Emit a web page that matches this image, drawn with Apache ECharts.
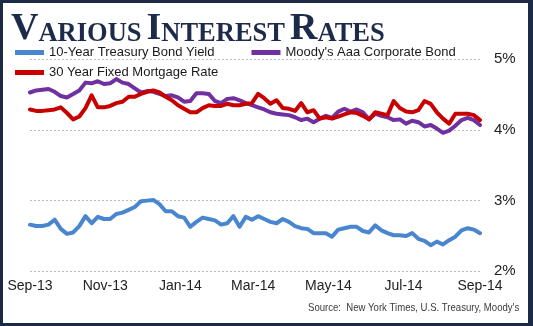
<!DOCTYPE html>
<html>
<head>
<meta charset="utf-8">
<script src="https://cdn.jsdelivr.net/npm/echarts@6/dist/echarts.min.js"></script>
<style>
  html, body { margin: 0; padding: 0; background: #ffffff; }
  #chart { width: 533px; height: 326px; }
</style>
</head>
<body>
<div id="chart"></div>
<script>
// Samples every 5 days starting 1 Sep 2013 (values in %)
const START = Date.UTC(2013, 8, 1);
const STEP_DAYS = 5;
const DAY = 86400000;

const treasury = [
  2.66,2.64,2.64,2.66,2.73,2.60,2.53,2.55,2.64,2.78,
  2.68,2.77,2.74,2.74,2.81,2.83,2.87,2.91,2.99,3.00,
  3.01,2.95,2.85,2.85,2.78,2.76,2.63,2.70,2.76,2.74,
  2.72,2.66,2.68,2.78,2.63,2.77,2.73,2.78,2.74,2.70,
  2.68,2.74,2.70,2.64,2.61,2.60,2.54,2.54,2.54,2.49,
  2.59,2.61,2.63,2.63,2.57,2.55,2.65,2.58,2.54,2.51,
  2.51,2.50,2.54,2.46,2.43,2.37,2.42,2.38,2.44,2.49,
  2.58,2.61,2.59,2.54
];
const moodys = [
  4.53,4.56,4.57,4.58,4.54,4.48,4.46,4.51,4.56,4.67,
  4.66,4.69,4.65,4.66,4.72,4.67,4.65,4.59,4.53,4.55,
  4.54,4.51,4.48,4.49,4.46,4.40,4.41,4.52,4.52,4.51,
  4.41,4.38,4.44,4.45,4.42,4.38,4.35,4.32,4.29,4.25,
  4.23,4.22,4.21,4.18,4.14,4.16,4.11,4.16,4.20,4.17,
  4.26,4.30,4.26,4.29,4.25,4.15,4.23,4.20,4.18,4.14,
  4.15,4.09,4.13,4.11,4.05,4.07,4.02,3.96,3.99,4.06,
  4.14,4.17,4.14,4.07
];
const mortgage = [
  4.29,4.27,4.27,4.28,4.29,4.32,4.24,4.15,4.19,4.31,
  4.49,4.32,4.32,4.34,4.38,4.40,4.47,4.47,4.51,4.54,
  4.56,4.53,4.47,4.42,4.35,4.30,4.25,4.25,4.31,4.35,
  4.34,4.34,4.37,4.35,4.35,4.37,4.38,4.51,4.45,4.37,
  4.42,4.31,4.30,4.27,4.38,4.25,4.28,4.16,4.18,4.16,
  4.19,4.22,4.25,4.24,4.20,4.15,4.25,4.23,4.21,4.41,
  4.31,4.26,4.25,4.28,4.41,4.37,4.25,4.16,4.09,4.23,
  4.23,4.23,4.21,4.14
];

const seriesNames = ['10-Year Treasury Bond Yield', "Moody's Aaa Corporate Bond", '30 Year Fixed Mortgage Rate'];
const seriesColors = ['#4a86d0', '#7030a0', '#c80000'];

const xTickDates = [Date.UTC(2013,8,1), Date.UTC(2013,10,1), Date.UTC(2014,0,1), Date.UTC(2014,2,1), Date.UTC(2014,4,1), Date.UTC(2014,6,1), Date.UTC(2014,8,1)];
const xTickLabels = ['Sep-13','Nov-13','Jan-14','Mar-14','May-14','Jul-14','Sep-14'];
const yTicks = [2, 3, 4, 5];

// x positions are day offsets from START
const xTickDays = xTickDates.map(t => Math.round((t - START) / DAY));
function pairs(arr) {
  return arr.map((v, i) => [i * STEP_DAYS, v]);
}

const chart = echarts.init(document.getElementById('chart'), null, { renderer: 'canvas' });
const navy = '#1d2b4a';
const frame = '#1c2a46';
const sans = '"Liberation Sans", Arial, sans-serif';

const option = {
  animation: false,
  backgroundColor: '#ffffff',
  title: {
    text: '{b|V}{s|ARIOUS} {b|I}{s|NTEREST} {b|R}{s|ATES}',
    left: 11,
    top: 10,
    padding: 0,
    textStyle: {
      rich: {
        b: { fontFamily: '"Liberation Serif", serif', fontWeight: 'bold', fontSize: 38, lineHeight: 38, color: navy, verticalAlign: 'bottom' },
        s: { fontFamily: '"Liberation Serif", serif', fontWeight: 'bold', fontSize: 26.5, lineHeight: 31.5, color: navy, verticalAlign: 'bottom' }
      }
    }
  },
  legend: [
    {
      data: [seriesNames[0], seriesNames[1]],
      left: 15, top: 46, padding: 0,
      icon: 'rect', itemWidth: 29, itemHeight: 5, itemGap: 37,
      textStyle: { fontFamily: sans, fontSize: 13, color: '#1a1a1a' }
    },
    {
      data: [seriesNames[2]],
      left: 15, top: 66, padding: 0,
      icon: 'rect', itemWidth: 29, itemHeight: 5,
      textStyle: { fontFamily: sans, fontSize: 13, color: '#1a1a1a' }
    }
  ],
  grid: { left: 30, right: 53, top: 59.3, bottom: 54.7 },
  xAxis: {
    type: 'value',
    min: xTickDays[0],
    max: xTickDays[xTickDays.length - 1],
    axisLine: { show: false },
    axisTick: { show: false },
    splitLine: { show: false },
    axisLabel: {
      customValues: xTickDays,
      formatter: function (v) {
        const i = xTickDays.indexOf(Math.round(v));
        return i >= 0 ? xTickLabels[i] : '';
      },
      margin: 8,
      fontFamily: sans,
      fontSize: 14,
      color: '#222222',
      hideOverlap: false
    }
  },
  yAxis: {
    type: 'value',
    position: 'right',
    min: yTicks[0],
    max: yTicks[yTicks.length - 1],
    interval: 1,
    axisLine: { show: false },
    axisTick: { show: false },
    axisLabel: {
      formatter: '{value}%',
      margin: 14,
      fontFamily: sans,
      fontSize: 15,
      color: '#222222'
    },
    splitLine: { show: true, lineStyle: { color: '#bdbdbd', type: [2, 2], width: 1 } }
  },
  series: [
    { name: seriesNames[0], type: 'line', data: pairs(treasury), showSymbol: false, symbol: 'none',
      lineStyle: { width: 4, color: seriesColors[0], join: 'round', cap: 'round' }, itemStyle: { color: seriesColors[0] } },
    { name: seriesNames[1], type: 'line', data: pairs(moodys), showSymbol: false, symbol: 'none',
      lineStyle: { width: 4, color: seriesColors[1], join: 'round', cap: 'round' }, itemStyle: { color: seriesColors[1] } },
    { name: seriesNames[2], type: 'line', data: pairs(mortgage), showSymbol: false, symbol: 'none',
      lineStyle: { width: 4, color: seriesColors[2], join: 'round', cap: 'round' }, itemStyle: { color: seriesColors[2] } }
  ],
  graphic: [
    { type: 'text', x: 308, y: 302, scaleX: 0.87,
      style: { text: "Source:  New York Times, U.S. Treasury, Moody's", fontFamily: sans, fontSize: 11, fill: '#3a3a3a' } },
    { type: 'rect', left: 0, top: 0, shape: { width: 3, height: 326 }, style: { fill: frame } },
    { type: 'rect', left: 0, top: 0, shape: { width: 533, height: 3 }, style: { fill: frame } },
    { type: 'rect', left: 0, top: 323, shape: { width: 533, height: 3 }, style: { fill: frame } },
    { type: 'rect', left: 528, top: 0, shape: { width: 5, height: 326 }, style: { fill: frame } }
  ]
};
chart.setOption(option);
</script>
</body>
</html>
